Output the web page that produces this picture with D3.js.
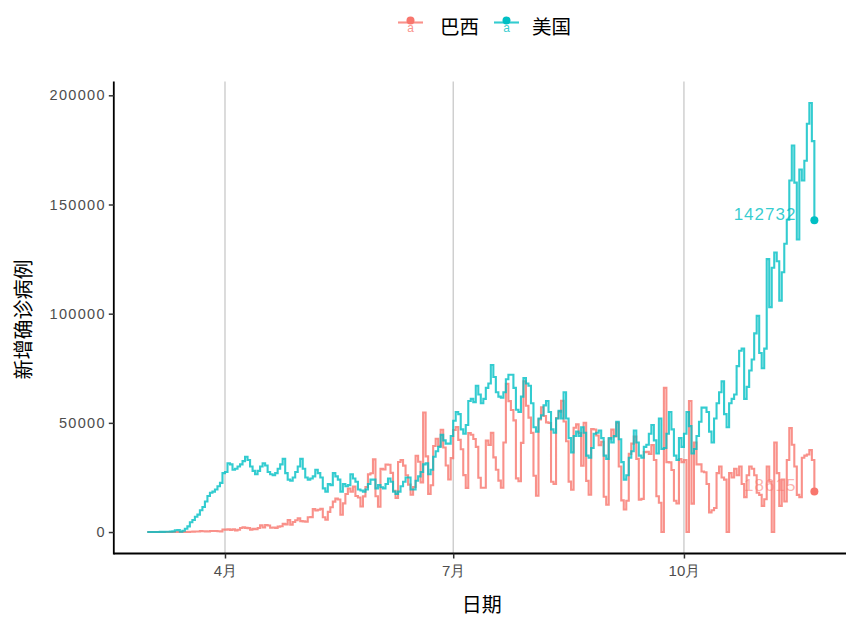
<!DOCTYPE html>
<html><head><meta charset="utf-8">
<script src="https://cdn.jsdelivr.net/npm/d3@7/dist/d3.min.js"></script>
<style>
html,body{margin:0;padding:0;background:#fff;}
svg{display:block;}
</style></head>
<body>
<svg id="chart" width="846" height="617"></svg>
<script>
// ---------------- DATA ----------------
const startDate = "2020-03-01";        // first day of both series (daily data)
const seriesNames = ["巴西", "美国"];
const seriesColors = ["#F8766D", "#00BFC4"];
// daily new confirmed cases, 2020-03-01 .. 2020-11-22
const brazil = [
  0,0,0,0,1,4,5,6,12,0,
  18,25,47,21,79,34,57,137,193,283,
  224,418,345,310,232,482,502,487,352,323,1138,
  1119,1208,1012,1304,770,1031,1873,2210,1930,1781,
  1089,1442,1261,1832,3058,2105,3257,2976,1996,2089,
  1927,2498,2678,3735,3503,5514,3379,4613,5385,6276,
  5017,4898,4726,6794,6835,10503,9888,10222,10611,6760,
  5632,9258,11385,13944,15305,14919,7938,13140,17408,19951,
  18508,20803,16508,15813,11687,16324,20599,26417,26928,33274,16409,
  11598,28936,28633,30925,30830,27075,18912,15654,32091,32913,
  30412,25982,21704,17110,20647,34918,32188,22765,54771,34666,
  17459,21432,39436,42725,39483,46860,38693,30476,24052,33846,
  46712,48105,42223,37923,26051,20229,45305,44571,42619,39023,
  24831,20286,20286,41857,39924,45403,34177,28532,23529,20257,
  41008,67860,59961,55891,51147,24578,23284,40816,69074,57837,52383,
  45392,25800,16641,51603,57152,53139,50230,49970,23010,22048,
  52160,55155,60091,50644,41576,23101,19373,47784,49298,45323,
  30355,50032,23421,17078,47134,46959,44235,39784,41350,16158,12500,
  42700,46900,43800,50000,30000,14500,10300,14300,35800,40500,
  43700,33500,14800,15200,36600,36800,35800,39800,33000,16400,
  13400,0,66000,32000,31900,28400,14300,13100,33400,32000,
  33000,0,60000,13000,41000,31000,31000,27700,27400,22000,
  9000,10000,11000,27000,30000,25000,24000,0,27000,25000,
  29000,26000,30000,22000,16000,26000,30000,29000,26000,18000,17000,
  12000,15000,30000,23000,0,41000,27000,12000,24000,14000,
  33000,47600,40000,30000,17000,16000,34000,35000,35500,37500,
  33000,18615
];
const usa = [
  7,14,21,28,38,63,94,116,121,200,
  291,800,900,150,600,1500,2600,4500,5500,7000,
  8000,10000,11500,14000,16500,18000,18500,19500,21000,22500,27000,
  27500,31500,31000,28500,29000,30000,31000,32500,34500,33000,
  30000,28000,26500,28000,30000,31500,30500,27500,26500,26000,
  27000,29000,31000,33500,27000,24000,23500,25000,27500,30000,
  33500,29000,25000,24000,24500,25500,28500,27000,25000,20000,
  18500,22000,21500,27000,25500,24000,18500,22000,21000,21500,
  26500,24500,23000,19500,19000,18500,19500,22000,24000,24000,20000,
  21500,20500,20000,22000,24500,23000,18500,17500,18500,21000,
  23000,25000,25000,19500,19500,23500,25500,27500,31000,31500,
  26500,28500,34500,37000,39000,44500,42000,40500,40500,44000,
  51000,55000,54000,47000,45000,49000,60000,61000,59500,67000,
  63000,59000,61000,66000,68000,76500,71000,64000,62000,61500,
  64000,70000,72000,72000,66000,56000,55000,62000,70500,68000,67000,
  59000,48000,46000,52000,53500,58000,60000,55000,47000,45500,
  52000,55500,52000,64000,52000,43000,36500,44000,46000,44000,
  48000,45500,35000,34000,38500,45000,45500,46500,43000,35000,33500,
  43000,41000,44000,50500,42500,32000,24000,26000,34000,37000,
  46500,41000,35000,34000,39000,40000,45000,49000,42000,36000,
  52000,38000,38500,45000,55000,47000,35000,33000,43000,39000,
  45000,55000,48500,36000,38000,44000,50500,57000,57000,55000,
  46000,41000,52000,59000,64000,69000,54000,48000,59000,61000,
  63000,76000,83000,84000,61000,66500,74000,79000,91000,99000,82000,
  75000,84000,125000,103000,121000,128000,124000,106000,119000,132000,
  143000,161000,177000,160000,134000,166000,161000,170000,187000,196500,
  179000,142732
];
const yTicks = [0, 50000, 100000, 150000, 200000];
const xTickDates = ["2020-04-01", "2020-07-01", "2020-10-01"];
const xTickLabels = ["4月", "7月", "10月"];
const xTitle = "日期";
const yTitle = "新增确诊病例";

// ---------------- CHART ----------------
const svg = d3.select("#chart");
const parse = d3.utcParse("%Y-%m-%d");
const t0 = parse(startDate);
const dateAt = i => d3.utcDay.offset(t0, i);
const allSeries = [brazil, usa].map((vals, k) => ({
  name: seriesNames[k], color: seriesColors[k],
  values: vals.map((v, i) => ({date: dateAt(i), value: v}))
}));

const n = brazil.length;
const tEnd = dateAt(n - 1);
const pad = (n - 1) * 0.05;
const x = d3.scaleUtc()
  .domain([d3.utcHour.offset(t0, -pad * 24), d3.utcHour.offset(tEnd, pad * 24)])
  .range([113.8, 847.7]);
const yMax = d3.max([...brazil, ...usa]);
const ypad = yMax * 0.05;
const y = d3.scaleLinear().domain([-ypad, yMax + ypad]).range([553.5, 81.5]);

const [px0, px1] = x.range();
const [py0, py1] = y.range();

const numFont = "'Liberation Sans', Arial, sans-serif";
const cjk = "'Noto Sans CJK SC', 'Microsoft YaHei', sans-serif";

// vertical grid lines
svg.append("g").selectAll("line").data(xTickDates).join("line")
  .attr("x1", d => x(parse(d))).attr("x2", d => x(parse(d)))
  .attr("y1", py1).attr("y2", py0)
  .attr("stroke", "#C4C4C4").attr("stroke-width", 1.2);

// lines
const line = d3.line().curve(d3.curveStepAfter)
  .x(d => x(d.date)).y(d => y(d.value));
const gl = svg.append("g");
allSeries.forEach(s => {
  gl.append("path").datum(s.values)
    .attr("d", line).attr("fill", "none")
    .attr("stroke", s.color).attr("stroke-opacity", 0.8)
    .attr("stroke-width", 2.1);
});
// last points + labels
allSeries.forEach((s, k) => {
  const last = s.values[s.values.length - 1];
  gl.append("circle").attr("cx", x(last.date)).attr("cy", y(last.value))
    .attr("r", 4).attr("fill", s.color);
  gl.append("text").attr("x", x(last.date) - 18).attr("y", y(last.value) - 5.6)
    .attr("text-anchor", "end").attr("dominant-baseline", "central")
    .attr("font-family", numFont).attr("font-size", 17).attr("letter-spacing", 1)
    .attr("fill", s.color).attr("fill-opacity", k === 0 ? 0.55 : 0.8)
    .text(last.value);
});

// axes
const ax = svg.append("g");
ax.append("line").attr("x1", px0).attr("x2", px1 + 5).attr("y1", py0).attr("y2", py0)
  .attr("stroke", "#000").attr("stroke-width", 1.8);
ax.append("line").attr("x1", px0).attr("x2", px0).attr("y1", py1).attr("y2", py0 + 0.9)
  .attr("stroke", "#000").attr("stroke-width", 1.8);

const yAxis = d3.axisLeft(y).tickValues(yTicks).tickSize(5).tickPadding(3).tickFormat(d3.format("d"));
const gy = svg.append("g").attr("transform", `translate(${px0},0)`).call(yAxis);
gy.select(".domain").remove();
gy.selectAll(".tick line").attr("stroke", "#333").attr("stroke-width", 1.5);
gy.selectAll(".tick text").attr("fill", "#4D4D4D").attr("font-size", 14.5)
  .attr("letter-spacing", 1.3).attr("font-family", numFont);

const xAxis = d3.axisBottom(x).tickValues(xTickDates.map(parse)).tickSize(5).tickPadding(7)
  .tickFormat((d, i) => xTickLabels[i]);
const gx = svg.append("g").attr("transform", `translate(0,${py0})`).call(xAxis);
gx.select(".domain").remove();
gx.selectAll(".tick line").attr("stroke", "#333").attr("stroke-width", 1.5);
gx.selectAll(".tick text").attr("fill", "#4D4D4D").attr("font-size", 15)
  .attr("font-family", numFont);

// titles
svg.append("text").attr("x", (px0 + px1) / 2 + 1).attr("y", 603)
  .attr("text-anchor", "middle").attr("dominant-baseline", "central")
  .attr("font-family", cjk).attr("font-size", 20).attr("fill", "#000").text(xTitle);
svg.append("text").attr("transform", `translate(22,${(py0 + py1) / 2 + 2}) rotate(-90)`)
  .attr("text-anchor", "middle").attr("dominant-baseline", "central")
  .attr("font-family", cjk).attr("font-size", 20).attr("fill", "#000").text(yTitle);

// legend
const legKeyX = [398, 494];
const legTextX = [440, 532];
const lg = svg.append("g");
allSeries.forEach((s, k) => {
  const g = lg.append("g").attr("transform", `translate(${legKeyX[k]},0)`);
  g.append("line").attr("x1", 0).attr("x2", 25).attr("y1", 22.5).attr("y2", 22.5)
    .attr("stroke", s.color).attr("stroke-opacity", 0.8).attr("stroke-width", 2.1);
  g.append("circle").attr("cx", 12.5).attr("cy", 20.5).attr("r", 4).attr("fill", s.color);
  g.append("text").attr("x", 12.5).attr("y", 32).attr("text-anchor", "middle")
    .attr("font-family", numFont).attr("font-size", 12).attr("fill", s.color).attr("fill-opacity", 0.8)
    .text("a");
  lg.append("text").attr("x", legTextX[k]).attr("y", 25).attr("dominant-baseline", "central")
    .attr("font-family", cjk).attr("font-size", 19.5).attr("fill", "#000").text(s.name);
});
</script>
</body></html>
